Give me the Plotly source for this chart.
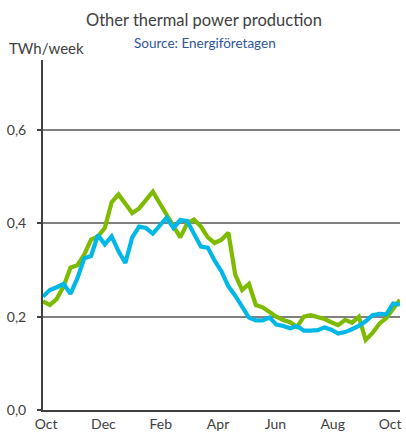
import plotly.graph_objects as go

weeks = list(range(53))
green_values = [0.233, 0.225, 0.238, 0.265, 0.305, 0.310, 0.333, 0.365, 0.372, 0.390,
                0.445, 0.462, 0.442, 0.422, 0.432, 0.450, 0.468, 0.443, 0.420, 0.393,
                0.370, 0.400, 0.408, 0.393, 0.370, 0.358, 0.365, 0.380, 0.290, 0.257,
                0.270, 0.225, 0.220, 0.210, 0.200, 0.193, 0.188, 0.178, 0.200, 0.203,
                0.200, 0.195, 0.188, 0.182, 0.193, 0.187, 0.200, 0.150, 0.165, 0.185,
                0.197, 0.218, 0.236]
blue_values = [0.243, 0.257, 0.263, 0.270, 0.249, 0.282, 0.325, 0.330, 0.375, 0.355,
               0.372, 0.340, 0.315, 0.370, 0.393, 0.390, 0.378, 0.395, 0.412, 0.390,
               0.407, 0.405, 0.375, 0.350, 0.348, 0.320, 0.297, 0.265, 0.245, 0.220,
               0.198, 0.192, 0.192, 0.198, 0.183, 0.180, 0.175, 0.180, 0.170, 0.170,
               0.171, 0.177, 0.172, 0.164, 0.167, 0.173, 0.180, 0.190, 0.203, 0.206,
               0.205, 0.228, 0.226]
month_labels = ["Oct", "Dec", "Feb", "Apr", "Jun", "Aug", "Oct"]
y_ticks = [0.0, 0.2, 0.4, 0.6]
y_tick_labels = ["0,0", "0,2", "0,4", "0,6"]

tick_pos = [0.45 + 8.35 * k for k in range(len(month_labels))]

W, H = 406, 436
l, r, t, b = 43, 6, 60, 26
pw, ph = W - l - r, H - t - b


def px_to_paper_x(px):
    return (px - l) / pw


def px_to_paper_y(py):
    return (H - b - py) / ph


FONT = "Lato"
fig = go.Figure()
fig.add_trace(go.Scatter(x=weeks, y=green_values, mode="lines",
                         line=dict(color="#7DBA00", width=4.2), showlegend=False))
fig.add_trace(go.Scatter(x=weeks, y=blue_values, mode="lines",
                         line=dict(color="#00B7E6", width=4.2), showlegend=False))

fig.update_layout(
    width=W, height=H,
    margin=dict(l=l, r=r, t=t, b=b),
    paper_bgcolor="white", plot_bgcolor="white",
    font=dict(family=FONT, color="#404040", size=14),
    xaxis=dict(range=[0, 52], tickmode="array", tickvals=tick_pos, ticktext=month_labels,
               showgrid=False, zeroline=False, showline=True, linecolor="#404040",
               linewidth=2, ticks="", automargin=False,
               tickfont=dict(size=14, color="#404040")),
    yaxis=dict(range=[0, 0.75], tickmode="array", tickvals=y_ticks, ticktext=y_tick_labels,
               showgrid=True, gridcolor="#808080", gridwidth=1.5, zeroline=False,
               showline=True, linecolor="#404040", linewidth=2,
               ticks="outside", ticklen=4, tickcolor="#404040", tickwidth=2,
               ticklabelstandoff=8, automargin=False,
               tickfont=dict(size=14, color="#404040")),
    annotations=[
        dict(text="Other thermal power production", x=px_to_paper_x(W / 2 + 1),
             y=px_to_paper_y(20), xref="paper", yref="paper", yanchor="middle",
             showarrow=False, font=dict(size=16.5, color="#404040")),
        dict(text="TWh/week", x=px_to_paper_x(7), y=px_to_paper_y(48),
             xref="paper", yref="paper", xanchor="left", yanchor="middle",
             showarrow=False, font=dict(size=15, color="#404040")),
        dict(text="Source: Energiföretagen", x=px_to_paper_x(W / 2 + 2),
             y=px_to_paper_y(43), xref="paper", yref="paper", yanchor="middle",
             showarrow=False, font=dict(size=13.5, color="#2F5597")),
    ],
)

fig.write_html("out.html", config={"displayModeBar": False},
               post_script="document.body.style.margin='0';document.body.style.overflow='hidden';")
